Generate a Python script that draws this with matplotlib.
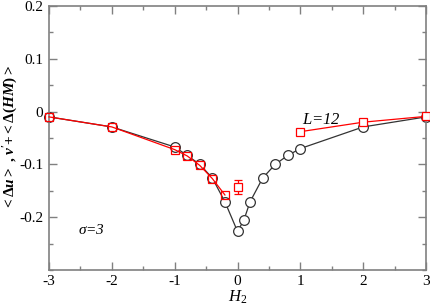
import matplotlib
matplotlib.use("Agg")
import matplotlib.pyplot as plt
from matplotlib.ticker import MultipleLocator, FuncFormatter

plt.rcParams['font.family'] = ['Liberation Serif', 'DejaVu Serif']
plt.rcParams['mathtext.fontset'] = 'custom'
plt.rcParams['mathtext.rm'] = 'Liberation Serif'
plt.rcParams['mathtext.it'] = 'Liberation Serif:italic'
plt.rcParams['mathtext.bf'] = 'Liberation Serif:bold'
plt.rcParams['mathtext.bfit'] = 'Liberation Serif:bold:italic'

# black circles: <Delta u>
h_circ = [-3, -2, -1, -0.8, -0.6, -0.4, -0.2, 0.0, 0.1, 0.2, 0.4, 0.6, 0.8, 1.0, 2, 3]
u_circ = [-0.010, -0.029, -0.067, -0.083, -0.100, -0.126, -0.171, -0.227, -0.206,
          -0.171, -0.126, -0.100, -0.083, -0.070, -0.029, -0.010]

# red squares: v' + <Delta(HM)>
h_sq = [-3, -2, -1, -0.8, -0.6, -0.4, -0.2]
v_sq = [-0.010, -0.029, -0.072, -0.084, -0.102, -0.127, -0.158]
h_sq2 = [1, 2, 3]
v_sq2 = [-0.038, -0.020, -0.009]
h_err = [0.0]
v_err = [-0.143]
e_err = [0.014]

xticks = [-3, -2, -1, 0, 1, 2, 3]
yticks = [-0.2, -0.1, 0, 0.1, 0.2]

fig = plt.figure(figsize=(4.31, 3.06), dpi=100)
ax = fig.add_axes([0.1137, 0.118, 0.8747, 0.862])

ax.plot(h_circ, u_circ, '-', color='#333333', lw=0.9, marker='o', ms=7,
        mfc='white', mec='#333333', mew=0.9, zorder=2, clip_on=False)
ax.plot(h_sq, v_sq, '-', color='red', lw=0.9, marker='s', ms=6,
        mfc='none', mec='red', mew=0.9, zorder=3, clip_on=False)
ax.plot(h_sq2, v_sq2, '-', color='red', lw=0.9, marker='s', ms=6,
        mfc='white', mec='red', mew=0.9, zorder=3, clip_on=False)
ax.errorbar(h_err, v_err, yerr=e_err, fmt='s', ms=6, mfc='white', mec='red',
            ecolor='red', mew=0.9, elinewidth=0.9, capsize=3, capthick=0.9, zorder=3)

ax.set_xlim(-3, 3)
ax.set_ylim(-0.3, 0.2)
ax.set_xticks(xticks)
ax.set_yticks(yticks)
ax.xaxis.set_minor_locator(MultipleLocator(0.5))
ax.yaxis.set_minor_locator(MultipleLocator(0.05))
ax.xaxis.set_major_formatter(FuncFormatter(lambda v, p: '%d' % v))
ax.yaxis.set_major_formatter(FuncFormatter(lambda v, p: '0' if abs(v) < 1e-9 else ('%.1f' % v)))

for s in ax.spines.values():
    s.set_color('#808080')
    s.set_linewidth(1.2)
ax.tick_params(which='both', direction='in', top=True, right=True, color='#808080',
               labelsize=11, width=1.0)
ax.tick_params(which='major', length=6, pad=4)
ax.tick_params(which='minor', length=3)

ax.set_xlabel(r'$H_2$', fontsize=12, labelpad=0)
ax.set_ylabel(r'$\mathbf{{<}\Delta}\mathbfit{u}\mathbf{{>}}$ , '
              r'$\mathbfit{v}\mathbf{^{\prime}{+}{<}\Delta(}\mathbfit{HM}\mathbf{){>}}$',
              fontsize=11, fontweight='bold')
ax.yaxis.set_label_coords(-0.077, 0.5)

ax.text(1.33, -0.015, r'$L$=12', fontsize=12, style='italic', ha='center', va='center')
ax.text(-2.33, -0.224, r'$\sigma$=3', fontsize=11, style='italic', ha='center', va='center')

fig.savefig('out.png', dpi=100)
